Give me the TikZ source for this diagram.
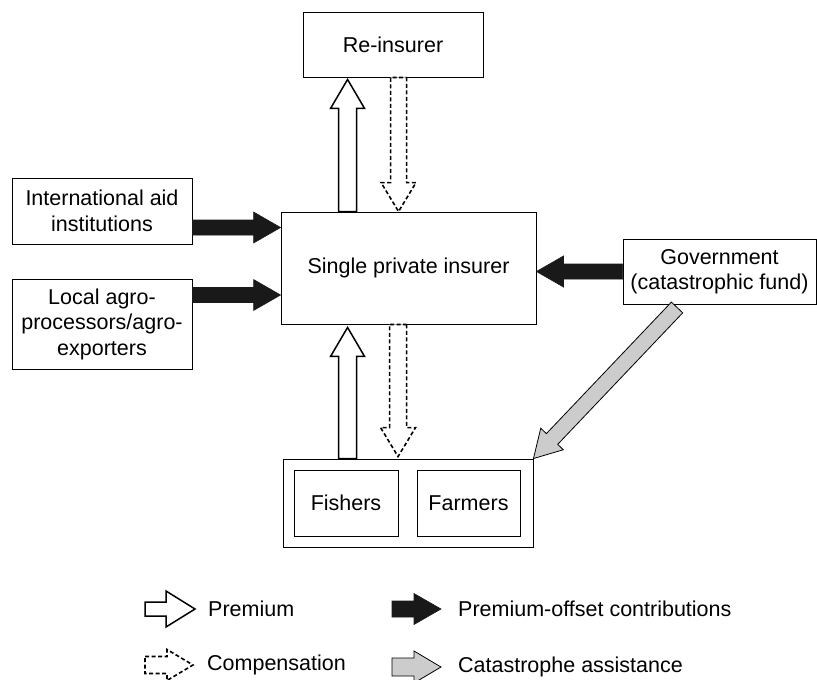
\documentclass[tikz,border=0pt]{standalone}
\usepackage{fontspec}
\setmainfont{Liberation Sans}
\usetikzlibrary{calc}
\newcommand{\blockarr}[6]{%
  \coordinate (ba-h) at ($(#3)!#6!(#2)$);
  \draw[#1] ($(#2)!#4!90:(#3)$) -- ($(ba-h)!#4!90:(#3)$) -- ($(ba-h)!#5!90:(#3)$) -- (#3)
    -- ($(ba-h)!#5!-90:(#3)$) -- ($(ba-h)!#4!-90:(#3)$) -- ($(#2)!#4!-90:(#3)$) -- cycle;
}
\tikzset{
  box/.style={draw, line width=0.9pt, align=center, inner sep=0pt, font=\fontsize{21.5}{25.5}\selectfont},
  legtext/.style={inner sep=0pt, anchor=west, font=\fontsize{21.5}{25.5}\selectfont},
  premarrow/.style={draw, fill=white, line width=1.5pt, line join=miter},
  comparrow/.style={draw, fill=white, line width=1.6pt, dash pattern=on 4pt off 2.5pt, line join=miter},
  contarrow/.style={draw=black!90, fill=black!90, line width=0.6pt, line join=miter},
  catarrow/.style={draw, fill=black!20, line width=0.8pt, line join=miter},
}
\begin{document}
\begin{tikzpicture}[x=1pt,y=-1pt]
\useasboundingbox (0,0) rectangle (817,680);
% boxes
\node[box, minimum width=180pt, minimum height=65pt] (reins) at (393,44.5) {Re-insurer};
\node[box, minimum width=255pt, minimum height=112pt] (main) at (408.5,268) {Single private insurer};
\node[box, minimum width=180pt, minimum height=66pt] (intl) at (102,211) {International aid\\institutions};
\node[box, minimum width=180pt, minimum height=90pt] (local) at (102,324) {Local agro-\\processors/agro-\\exporters};
\node[box, minimum width=193pt, minimum height=65pt] (gov) at (719.5,271.5) {Government\\(catastrophic fund)};
\node[box, minimum width=250pt, minimum height=88pt] (outer) at (408,503) {};
\node[box, minimum width=104pt, minimum height=66pt] (fishers) at (346,503) {Fishers};
\node[box, minimum width=103pt, minimum height=66pt] (farmers) at (468.5,503) {Farmers};
% connector end points
\coordinate (p1s) at ($(main.north west)+(67,0)$);
\coordinate (p1e) at ($(reins.south west)+(45,2)$);
\coordinate (c1s) at ($(reins.south west)+(96,0)$);
\coordinate (c1e) at ($(main.north west)+(118,0)$);
\coordinate (p2s) at ($(outer.north west)+(65,0)$);
\coordinate (p2e) at ($(main.south west)+(67,3)$);
\coordinate (c2s) at ($(main.south west)+(117.5,0)$);
\coordinate (c2e) at ($(outer.north west)+(115.5,-2)$);
\coordinate (b1s) at ($(intl.east)+(0,16.5)$);
\coordinate (b1e) at (main.west |- b1s);
\coordinate (b2s) at ($(local.east)+(0,-29)$);
\coordinate (b2e) at (main.west |- b2s);
\coordinate (b3s) at (gov.west);
\coordinate (b3e) at (main.east |- b3s);
\coordinate (g1s) at ($(gov.south west)+(54.5,3)$);
\coordinate (g1e) at (outer.north east);
% arrows
\blockarr{premarrow}{p1s}{p1e}{9pt}{17pt}{29pt}
\blockarr{comparrow}{c1s}{c1e}{8pt}{17.5pt}{29pt}
\blockarr{premarrow}{p2s}{p2e}{9pt}{17pt}{29pt}
\blockarr{comparrow}{c2s}{c2e}{8.5pt}{17.5pt}{29pt}
\blockarr{contarrow}{b1s}{b1e}{7.5pt}{15.5pt}{27pt}
\blockarr{contarrow}{b2s}{b2e}{7.5pt}{15.5pt}{27pt}
\blockarr{contarrow}{b3s}{b3e}{7.5pt}{15.5pt}{27pt}
\blockarr{catarrow}{g1s}{g1e}{7.8pt}{15.6pt}{27pt}
% legend
\coordinate (l1s) at (145,609); \coordinate (l1e) at (195,609);
\coordinate (l2s) at (145,665); \coordinate (l2e) at (193,665);
\coordinate (l3s) at (392,609); \coordinate (l3e) at (441,609);
\coordinate (l4s) at (392,667); \coordinate (l4e) at (441,667);
\blockarr{premarrow}{l1s}{l1e}{7pt}{18pt}{29pt}
\blockarr{comparrow}{l2s}{l2e}{8.5pt}{15.5pt}{26pt}
\blockarr{contarrow}{l3s}{l3e}{8pt}{15.5pt}{27pt}
\blockarr{catarrow}{l4s}{l4e}{9pt}{16pt}{27pt}
\node[legtext] (t1) at (208,609) {Premium};
\node[legtext] (t2) at (207,665) {Compensation};
\node[legtext] (t3) at (458,609) {Premium-offset contributions};
\node[legtext] (t4) at (458,667) {Catastrophe assistance};
\end{tikzpicture}
\end{document}
